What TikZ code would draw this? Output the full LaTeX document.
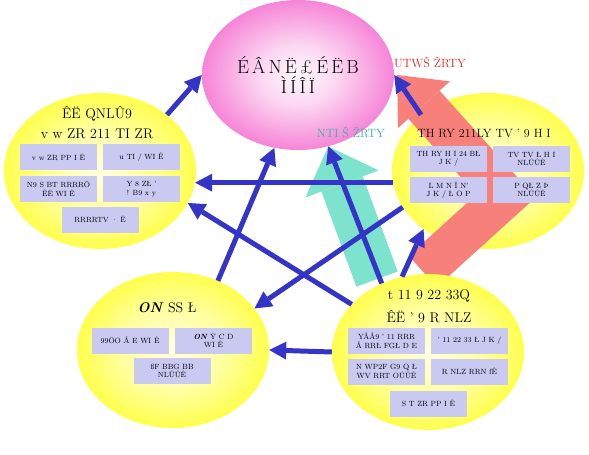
\documentclass[tikz,border=0pt]{standalone}
\usepackage{fontspec}
\usetikzlibrary{arrows.meta, shapes.geometric}
\definecolor{linkblue}{HTML}{3434C8}
\definecolor{goalpink}{HTML}{F35FCB}
\definecolor{zoneyellow}{HTML}{FFFF26}
\definecolor{boxlav}{HTML}{C9C9F2}
\definecolor{tealfill}{HTML}{7EE3CC}
\definecolor{tealtext}{HTML}{2FB3A0}
\definecolor{salmonfill}{HTML}{F8807A}
\definecolor{redtext}{HTML}{E3231F}
\pgfdeclareradialshading{yelshade}{\pgfpoint{0bp}{0bp}}{color(0bp)=(zoneyellow!15!white); color(14bp)=(zoneyellow!45!white); color(30bp)=(zoneyellow); color(50bp)=(zoneyellow)}
\pgfdeclareradialshading{pinkshade}{\pgfpoint{0bp}{0bp}}{color(0bp)=(goalpink!5!white); color(10bp)=(goalpink!25!white); color(26bp)=(goalpink!80!white); color(40bp)=(goalpink); color(50bp)=(goalpink)}
\pgfdeclarelayer{zonelayer}
\pgfdeclarelayer{flowlayer}
\pgfsetlayers{zonelayer,flowlayer,main}

\begin{document}
\begin{tikzpicture}[x=1pt, y=-1pt,
    zone/.style={ellipse, minimum width=192pt, minimum height=156pt,
                 inner sep=0pt, shade, shading=yelshade},
    goalzone/.style={ellipse, minimum width=192pt, minimum height=150pt,
                     inner sep=0pt, shade, shading=pinkshade},
    infobox/.style={rectangle, fill=boxlav, minimum width=77pt, minimum height=26pt,
                    inner sep=1pt, align=center, font=\fontsize{7.5}{8.5}\selectfont},
    heading/.style={align=center, font=\fontsize{14}{20}\selectfont},
    flowlabel/.style={font=\fontsize{12}{14}\selectfont},
    link/.style={linkblue, line width=5pt, -{Triangle[length=17pt, width=18pt, line width=0pt]}},
  ]
  \useasboundingbox (0,0) rectangle (589,455);

  % zones
  \begin{pgfonlayer}{zonelayer}
    \node[goalzone] (goal) at (298,75) {};
    \node[zone] (lft) at (100,171) {};
    \node[zone] (bl) at (173,350) {};
    \node[zone] (rgt) at (488,171) {};
  \end{pgfonlayer}
  \node[zone] (br) at (428,352) {};

  % broad flows
  \coordinate (bendpt) at (506,196);
  \begin{pgfonlayer}{flowlayer}
    \draw[tealfill, line width=44pt, shorten <=6pt,
          -{Triangle[length=40pt, width=78pt, line width=0pt]}] (br.126) -- (goal.-67);
    \draw[salmonfill, line width=42pt, line join=miter, shorten <=4pt,
          -{Triangle[length=40pt, width=70pt, line width=0pt]}]
      (br.96) -- (bendpt) -- ([xshift=3pt]goal.east);
  \end{pgfonlayer}

  \node[flowlabel, text=redtext] (redlbl) at (430,62) {UTWŠ ŽRTY};
  \node[flowlabel, text=tealtext] (teallbl) at (351,132) {NTI Š ŽRTY};

  % goal text
  \node[align=center, font=\fontsize{19}{20}\selectfont] (goaltxt) at (298,75)
    {É\,Â\,N\,Ë\,£\,É\,Ë\,B\\Ì\,Í\,Î\,Ï};

  % left zone
  \node[heading] (lfttitle) at (97,123) {ÊË QNLÛ9\\v w ZR 211 TI ZR};
  \node[infobox] (l1) at (58.5,157) {v w ZR PP I Ê};
  \node[infobox] (l2) at (141.5,157) {u TI / WI Ê};
  \node[infobox] (l3) at (58.5,189) {N9 S BT RRRRÖ\\ÊË WI Ê};
  \node[infobox] (l4) at (141.5,189) {Y 8 ZŁ '\\! B9 x y};
  \node[infobox] (l5) at (100,219.5) {RRRRTV · Ê};

  % right zone
  \node[heading, font=\fontsize{12}{14}\selectfont] (rgttitle) at (484,133) {TH RY 211LY TV ' 9 H I};
  \node[infobox] (r1) at (448.5,159) {TH RY H I 24 BŁ\\J K /};
  \node[infobox] (r2) at (531.5,159) {TV TV Ł H I\\NLÛÛÊ};
  \node[infobox] (r3) at (448.5,190) {L M N Î N'\\J K / Ł O P};
  \node[infobox] (r4) at (531.5,190) {P QŁ Z Þ\\NLÛÛÊ};

  % bottom-left zone
  \node[heading] (bltitle) at (167,308) {\textbf{\textit{ON}} SS Ł};
  \node[infobox] (b1) at (130,340.5) {99ÖO Å E WI Ê};
  \node[infobox] (b2) at (213.5,340.5) {\textbf{\textit{ON}} Ÿ C D\\WI Ê};
  \node[infobox] (b3) at (172,371) {ßF BBG BB\\NLÛÛÊ};

  % bottom-right zone
  \node[heading, font=\fontsize{14}{23}\selectfont] (brtitle) at (429,306.5)
    {t 11 9 22 33Q\\ÊË ' 9 R NLZ};
  \node[infobox] (c1) at (386.5,340.5) {YÅÅ9 ' 11 RRR\\Å RRŁ FGŁ D E};
  \node[infobox] (c2) at (469.5,340.5) {' 11 22 33 Ł J K /};
  \node[infobox] (c3) at (386.5,371.5) {N WP2F G9 Q Ł\\WV RRT OÛÛÊ};
  \node[infobox] (c4) at (469.5,371.5) {R NLZ RRN fÊ};
  \node[infobox] (c5) at (428.5,403.5) {S T ZR PP I Ê};

  % links
  \draw[link] (lft.40) -- (goal.180);
  \draw[link] (bl.57) -- (goal.252);
  \draw[link] (rgt.187) -- (lft.-7);
  \draw[link] (br.148) -- (lft.-20);
  \draw[link] (rgt.203) -- (bl.27);
  \draw[link] (br.124) -- (goal.-67);
  \draw[link] (br.109) -- (rgt.222);
  \draw[link] (rgt.140) -- (goal.0);
  \draw[link] (br.180) -- (bl.0);
\end{tikzpicture}
\end{document}
